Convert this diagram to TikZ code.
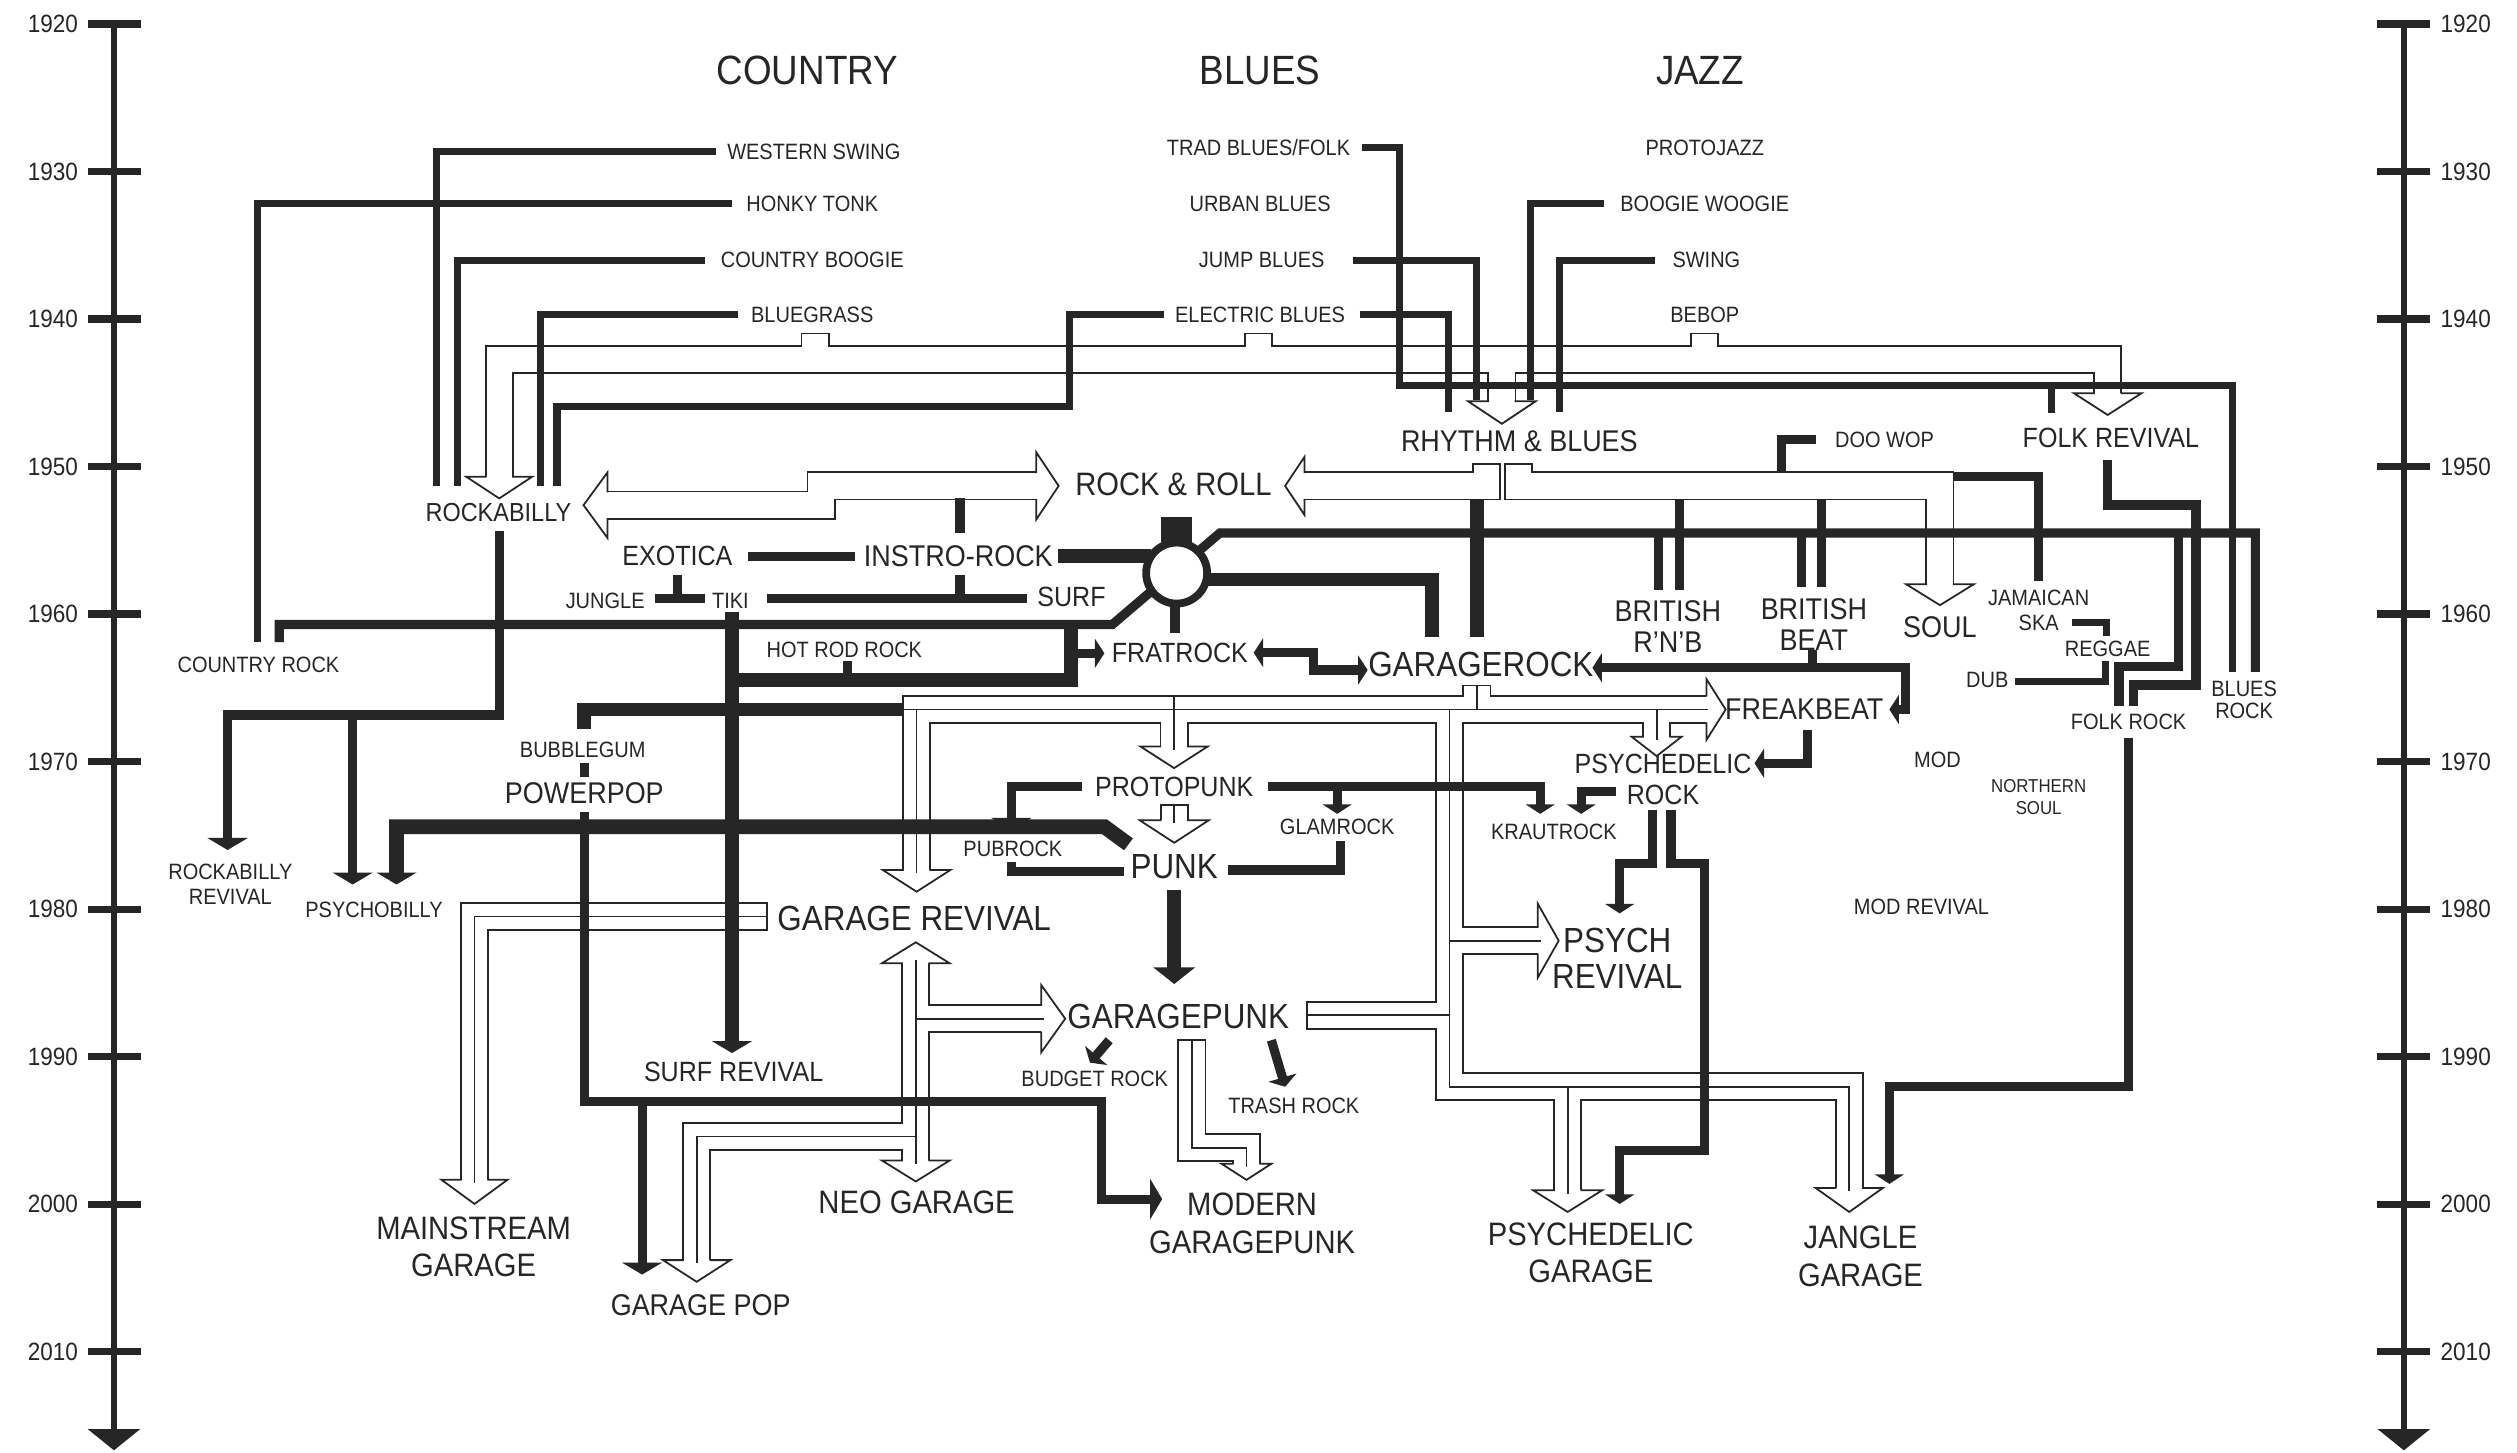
\documentclass[tikz,border=0pt]{standalone}
\usepackage{fontspec}
\setmainfont{Liberation Sans}[FakeStretch=0.9]
\usetikzlibrary{arrows.meta}
\definecolor{ink}{HTML}{262626}

\newcommand{\hollowhead}[4]{%
  \filldraw[fill=white, line width=0.5pt, line join=miter, shift={(#1)}, rotate=#2]
    (0,8) -- (0,#3) -- (#4,0) -- (0,-#3) -- (0,-8);}

\begin{document}
\begin{tikzpicture}[
x=0.016cm, y=-0.016cm, color=ink,
lab/.style={inner sep=0pt, align=center},
labt/.style={lab, font=\fontsize{5.3}{6.3}\selectfont},
labs/.style={lab, font=\fontsize{6.3}{7.1}\selectfont},
labr/.style={lab, font=\fontsize{7.4}{8.4}\selectfont},
labm/.style={lab, font=\fontsize{7.9}{8.6}\selectfont},
labn/.style={lab, font=\fontsize{8.5}{8.8}\selectfont},
labl/.style={lab, font=\fontsize{9.2}{10.7}\selectfont},
labx/.style={lab, font=\fontsize{9.9}{10}\selectfont},
labh/.style={lab, font=\fontsize{11.6}{12}\selectfont},
yearlab/.style={inner sep=0pt, font=\fontsize{7.1}{7.5}\selectfont},
axisln/.style={line width=1.9pt},
tickln/.style={line width=2.1pt},
ln/.style={line width=2pt},
lnm/.style={line width=2.6pt},
lnh/.style={line width=3.9pt},
lnx/.style={line width=4.2pt},
pipe/.style={double=white, double distance=7.2pt, line width=0.5pt, line join=miter},
core/.style={line width=0.5pt},
tipb/.tip={Triangle[width=11.3pt, length=3.4pt]},
tipm/.tip={Triangle[width=8.2pt, length=2.7pt]},
tipx/.tip={Triangle[width=11.6pt, length=4.7pt]},
tipaxis/.tip={Triangle[width=14.5pt, length=6pt]}
]

\fill[white] (0,0) rectangle (1568,905);
\useasboundingbox (0,0) rectangle (1568,905);

\draw[axisln, -tipaxis] (71,15) -- (71,903.5);
\draw[axisln, -tipaxis] (1497.5,15) -- (1497.5,903.5);
\foreach \yr [count=\i from 0] in {1920,1930,...,2010}{
  \pgfmathsetmacro{\yy}{15+91.9*\i}
  \draw[tickln] (55,\yy) -- (88,\yy) (1481,\yy) -- (1514,\yy);
  \node[yearlab, anchor=east] (yearL\i) at (49,\yy) {\yr};
  \node[yearlab, anchor=west] (yearR\i) at (1520,\yy) {\yr};
}

\node[labh] (country) at (503,44) {COUNTRY};
\node[labh] (blues) at (785,44) {BLUES};
\node[labh] (jazz) at (1059,44) {JAZZ};

\node[labs] (wswing) at (507,94.5) {WESTERN SWING};
\node[labs] (honky) at (506,127) {HONKY TONK};
\node[labs] (cboogie) at (506,162) {COUNTRY BOOGIE};
\node[labs] (bgrass) at (506,196) {BLUEGRASS};
\node[labs] (tradb) at (784,92) {TRAD BLUES/FOLK};
\node[labs] (urbanb) at (785,127) {URBAN BLUES};
\node[labs] (jumpb) at (786,162) {JUMP BLUES};
\node[labs] (elecb) at (785,196) {ELECTRIC BLUES};
\node[labs] (protoj) at (1062,92) {PROTOJAZZ};
\node[labs] (boogie) at (1062,127) {BOOGIE WOOGIE};
\node[labs] (swing) at (1063,162) {SWING};
\node[labs] (bebop) at (1062,196) {BEBOP};
\node[labs] (doowop) at (1174,274) {DOO WOP};
\node[labs] (jungle) at (377,374) {JUNGLE};
\node[labs] (tiki) at (455,374) {TIKI};
\node[labs] (crock) at (161,414) {COUNTRY ROCK};
\node[labs] (hotrod) at (526,405) {HOT ROD ROCK};
\node[labs] (bubble) at (363,467) {BUBBLEGUM};
\node[labs] (rbrev) at (143.5,551) {ROCKABILLY\\REVIVAL};
\node[labs] (psybilly) at (233,567) {PSYCHOBILLY};
\node[labs] (pubrock) at (631,528.5) {PUBROCK};
\node[labs] (glam) at (833,515) {GLAMROCK};
\node[labs] (kraut) at (968,518) {KRAUTROCK};
\node[labs] (budget) at (682,672) {BUDGET ROCK};
\node[labs] (trash) at (806,688.6) {TRASH ROCK};
\node[labs] (jska) at (1270,380.5) {JAMAICAN\\SKA};
\node[labs] (reggae) at (1313,404) {REGGAE};
\node[labs] (dub) at (1238,423.6) {DUB};
\node[labs] (folkrock) at (1326,449.6) {FOLK ROCK};
\node[labs, font=\fontsize{6.3}{6.4}\selectfont] (bluesrock) at (1398,436) {BLUES\\ROCK};
\node[labs] (mod) at (1207,473.5) {MOD};
\node[labt] (nsoul) at (1270,496.6) {NORTHERN\\SOUL};
\node[labs] (modrev) at (1197,565) {MOD REVIVAL};

\node[labr] (rockabilly) at (310.5,319.5) {ROCKABILLY};
\node[labm] (exotica) at (422,346.5) {EXOTICA};
\node[labn] (instro) at (597,346.5) {INSTRO-ROCK};
\node[labm] (surf) at (667.5,371.7) {SURF};
\node[labm] (frat) at (735,407) {FRATROCK};
\node[labn] (rnb) at (946.5,275) {RHYTHM \& BLUES};
\node[labm] (folkrev) at (1315,273) {FOLK REVIVAL};
\node[labn] (brnb) at (1039,390.5) {BRITISH\\R’N’B};
\node[labn] (bbeat) at (1130,389) {BRITISH\\BEAT};
\node[labn] (soul) at (1208.5,390.4) {SOUL};
\node[labn] (freak) at (1124,442) {FREAKBEAT};
\node[labm] (psyrock) at (1036,485.5) {PSYCHEDELIC\\ROCK};
\node[labm] (protopunk) at (731.5,490) {PROTOPUNK};
\node[labn] (powerpop) at (364,494) {POWERPOP};
\node[labm] (surfrev) at (457,668) {SURF REVIVAL};
\node[labn] (gpop) at (436.5,813) {GARAGE POP};
\node[labl] (rnr) at (731,302) {ROCK \& ROLL};
\node[labx] (grock) at (922.5,414) {GARAGEROCK};
\node[labx] (punk) at (731.5,540) {PUNK};
\node[labx] (grev) at (569.5,572) {GARAGE REVIVAL};
\node[labx] (gpunk) at (734,633.5) {GARAGEPUNK};
\node[labx] (psyrev) at (1007.5,597) {PSYCH\\REVIVAL};
\node[labl] (mainstream) at (295,776.7) {MAINSTREAM\\GARAGE};
\node[labl] (neo) at (571,749) {NEO GARAGE};
\node[labl] (modern) at (780,762) {MODERN\\GARAGEPUNK};
\node[labl] (psygar) at (991,780.5) {PSYCHEDELIC\\GARAGE};
\node[labl] (jangle) at (1159,782.5) {JANGLE\\GARAGE};

\draw[pipe] (311,297) -- (311,224) -- (1313,224) -- (1313,245)
  (507.8,224) -- (507.8,207.7) (784,224) -- (784,207.7) (1062,224) -- (1062,207.7)
  (935.6,224) -- (935.6,250);
\draw[pipe] (378.5,314.7) -- (511.5,314.7) -- (511.5,302.7) -- (645.5,302.7);
\draw[pipe] (926,289) -- (926,302.7) -- (812.6,302.7);
\draw[pipe] (946,289) -- (946,302.7) -- (1208.5,302.7) -- (1208.5,364);
\draw[pipe] (571,542) -- (571,442) -- (1063,442)
  (731.4,442) -- (731.4,465) (1032,442) -- (1032,459)
  (903,442) -- (903,677) -- (1152,677) -- (1152,740)
  (903,586) -- (958,586) (903,632.5) -- (814,632.5)
  (976.6,677) -- (976.6,741.5) (920,442) -- (920,427);
\draw[pipe] (570.5,600) -- (570.5,723) (570.5,634.6) -- (648.6,634.6)
  (570.5,708) -- (434,708) -- (434,785);
\draw[pipe] (478,571) -- (295.6,571) -- (295.6,735);
\draw[pipe] (742.5,648) -- (742.5,715) -- (776.5,715) -- (776.5,725);
\draw[pipe] (731.5,501.5) -- (731.5,511);

\hollowhead{311,297}{-90}{20.5}{13.5}
\hollowhead{1313,245}{-90}{21}{13.5}
\hollowhead{935.6,250}{-90}{21}{14}
\hollowhead{378.5,314.7}{180}{20.5}{15}
\hollowhead{645.5,302.7}{0}{21}{14}
\hollowhead{812.6,302.7}{180}{18}{12}
\hollowhead{1208.5,364}{-90}{21}{13}
\hollowhead{571,542}{-90}{21}{13.5}
\hollowhead{1063,442}{0}{19}{12}
\hollowhead{731.4,465}{-90}{21}{13.5}
\hollowhead{1032,459}{-90}{15.5}{12}
\hollowhead{1152,740}{-90}{21}{15}
\hollowhead{958,586}{0}{23}{13}
\hollowhead{976.6,741.5}{-90}{21.5}{13.5}
\hollowhead{570.5,600}{90}{21}{13}
\hollowhead{570.5,723}{-90}{21}{13}
\hollowhead{648.6,634.6}{0}{21}{15}
\hollowhead{434,785}{-90}{21}{13.5}
\hollowhead{295.6,735}{-90}{20.5}{15}
\hollowhead{776.5,725}{-90}{15.5}{10}
\hollowhead{731.5,511}{-90}{21.5}{14}

\draw[core] (498.8,207.7) -- (516.8,207.7) (775,207.7) -- (793,207.7) (1053,207.7) -- (1071,207.7)
  (917,289) -- (935,289) (937,289) -- (955,289)
  (814,623.5) -- (814,641.5) (911,427) -- (929,427)
  (478,562) -- (478,580) (733.5,648) -- (751.5,648) (722.5,501.5) -- (740.5,501.5);
\draw[core] (562.6,442) -- (1064,442) (571,442) -- (571,544)
  (731.4,433) -- (731.4,467) (1032,442) -- (1032,461)
  (903,442) -- (903,677) -- (1152,677) -- (1152,742)
  (903,586) -- (960,586) (814,632.5) -- (903,632.5)
  (976.6,677) -- (976.6,744) (920,427) -- (920,442);
\draw[core] (570.5,598) -- (570.5,725) (570.5,634.6) -- (650.6,634.6)
  (570.5,708) -- (434,708) -- (434,787);
\draw[core] (478,571) -- (295.6,571) -- (295.6,737);
\draw[core] (742.5,648) -- (742.5,715) -- (776.5,715) -- (776.5,727);
\draw[core] (731.5,501.5) -- (731.5,513);

\draw[ln] (446,0 |- wswing) -| (272,303);
\draw[ln] (456,0 |- honky) -| (160.6,400);
\draw[ln] (439,0 |- cboogie) -| (285,303);
\draw[ln] (460,0 |- bgrass) -| (336.6,303);
\draw[ln] (725,0 |- elecb) -| (666,253.5) -| (347,303);
\draw[ln] (848.5,0 |- tradb) -| (872,240) -| (1391,418.5);
\draw[ln] (1278,240) -- (1278,257.5);
\draw[ln] (843,0 |- jumpb) -| (920,249);
\draw[ln] (847,0 |- elecb) -| (902.5,256.5);
\draw[ln] (999,0 |- boogie) -| (953.7,249);
\draw[ln] (1031,0 |- swing) -| (971.5,256.5);

\draw[lnh] (920,311.5) -- (920,396.6);
\fill (723.5,322) rectangle (742.5,337.5);
\draw[line width=2.2pt] (733,357) circle[radius=19];
\draw[lnh] (659,0 |- instro) -- (717,0 |- instro);
\draw[lnm] (466,0 |- exotica) -- (532.7,0 |- exotica);
\draw[lnm] (408,372.7) -- (439,372.7) (422,358) -- (422,372.7);
\draw[lnm] (478,372.7) -- (640,372.7) (598,358) -- (598,372.7);
\draw[lnm] (598,310.5) -- (598,332);
\draw[lnm] (746.4,343.6) -- (760,332) -- (1405,332) -- (1405,418.5);
\draw[lnm] (1033,332) -- (1033,367.5) (1122.5,332) -- (1122.5,365.5);
\draw[lnm] (1357,332) |- (1320,415) -- (1320,440);
\draw[lnm] (1046,311.5) -- (1046,367.5) (1134.5,311.5) -- (1134.5,365.5);
\draw[lnh] (751,361) -| (892,396.6);
\draw[lnm] (717,368.5) -- (693,389) -| (174,400);
\draw[lnh] (667,387) -- (667,423.5) -- (456,423.5);
\draw[lnm, -tipm] (667,407) -- (688,407);
\draw[lnm] (528,412) -- (528,423.5);
\draw[lnm] (732,376) -- (732,394.5);
\draw[lnh, -tipb] (456,381) -- (456,656);
\draw[lnm, tipm-tipm] (781,406.6) -| (818,417.4) -- (852,417.4);
\draw[lnm, tipm-tipm] (992,416) -- (1187,416) |- (1177,442);
\draw[lnm] (1129,405) -- (1129,416);
\draw[lnm, -tipm] (1126,455) |- (1093,475.5);
\draw[lnm] (1131,0 |- doowop) -| (1110,294);
\draw[lnm] (1217,297) -| (1270,362);
\draw[ln] (1291,388) -| (1312.5,396);
\draw[ln] (1311.5,412) |- (1255,424.7);
\draw[lnm] (1313,286.6) |- (1368,314.6) |- (1329,426.7) -- (1329,440);
\draw[lnm, -tipm] (1326,459.5) |- (1177,677) -- (1177,737.5);
\draw[lnm, -tipm] (1029.6,504.5) |- (1009,538) -- (1009,569);
\draw[lnm, -tipm] (1041,504.5) |- (1062,538) |- (1009,716.6) -- (1009,750);
\draw[lnm, -tipb] (674,0 |- protopunk) -| (630,517);
\draw[lnm] (630,537) |- (700,543);
\draw[lnm] (765,542) -| (835,524);
\draw[lnm, -tipm] (790,0 |- protopunk) -| (959.5,507);
\draw[lnm, -tipm] (833,490) -- (833,507);
\draw[lnm, -tipm] (1007,493) -| (985,507);
\draw[lnx, -tipb] (703,526) -- (688,515) -| (247,551);
\draw[lnh, -tipx] (731.5,554.5) -- (731.5,613);
\draw[lnm, -tipm] (691,648) -- (679,662);
\draw[lnm, -tipm] (792,648) -- (800.6,677);
\draw[lnm, -tipb] (364,506) |- (686,686) |- (724,747);
\draw[lnm, -tipb] (400,686) -- (400,794);
\draw[lnh] (562.6,442) -| (364,454);
\draw[lnm] (364,475.6) -- (364,484);
\draw[lnm, -tipb] (311,331) |- (141.8,445.4) -- (141.8,529.5);
\draw[lnm, -tipb] (219.7,445.4) -- (219.7,551);

\end{tikzpicture}
\end{document}
